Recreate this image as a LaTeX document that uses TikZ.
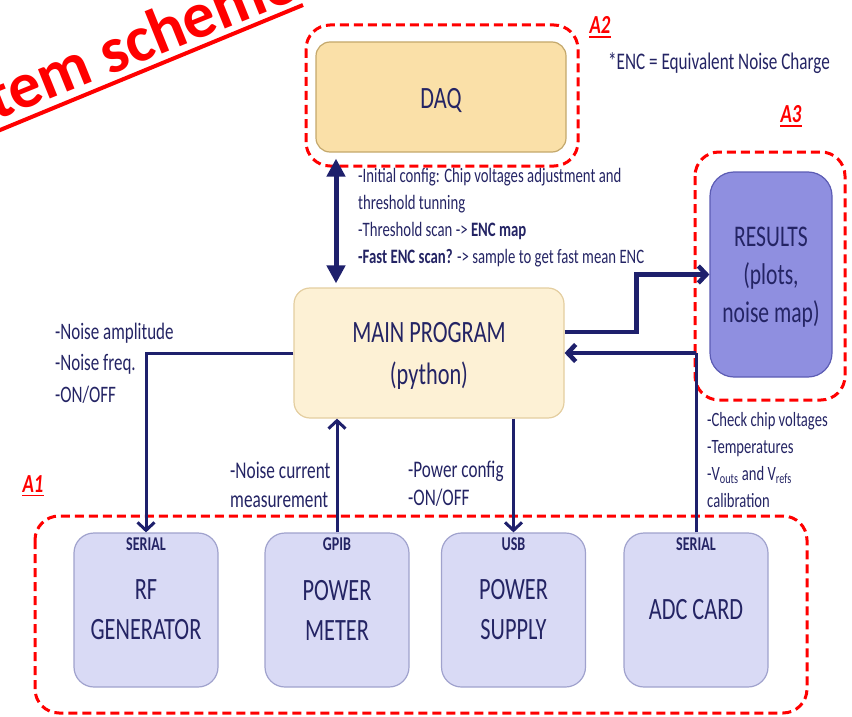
\documentclass[tikz,border=0pt]{standalone}
\usepackage{fontspec}
\setmainfont{Carlito}[FakeStretch=0.72]
\newfontfamily\titlefont{Carlito}
\usetikzlibrary{arrows.meta,calc}

\definecolor{ink}{RGB}{36,36,100}
\definecolor{wire}{RGB}{30,32,108}
\definecolor{daqfill}{RGB}{250,224,168}
\definecolor{daqedge}{RGB}{196,168,108}
\definecolor{mainfill}{RGB}{253,241,213}
\definecolor{mainedge}{RGB}{228,206,160}
\definecolor{resfill}{RGB}{143,143,224}
\definecolor{resedge}{RGB}{92,92,180}
\definecolor{devfill}{RGB}{217,218,245}
\definecolor{devedge}{RGB}{160,162,205}

\newcommand\fsz[2]{\fontsize{#1}{#2}\selectfont}

\begin{document}
\begin{tikzpicture}[x=1pt,y=-1pt,
  box/.style={draw, line width=1.2pt, inner sep=0pt, text=ink},
  daqbox/.style={box, fill=daqfill, draw=daqedge, rounded corners=14pt},
  mainbox/.style={box, fill=mainfill, draw=mainedge, rounded corners=16pt},
  resbox/.style={box, fill=resfill, draw=resedge, rounded corners=24pt},
  devbox/.style={box, fill=devfill, draw=devedge, rounded corners=20pt,
    minimum width=144pt, minimum height=154pt,
    align=center, font=\fsz{31}{40}},
  area/.style={draw=red, line width=3pt, dash pattern=on 9pt off 5pt, rounded corners=24pt},
  arealabel/.style={text=red, inner sep=0pt, font=\bfseries\itshape\fsz{26}{26}},
  bigtext/.style={inner sep=0pt, text=ink, align=center},
  note/.style={inner sep=0pt, text=ink, align=left, anchor=west},
  port/.style={inner sep=0pt, text=ink, font=\bfseries\fsz{19.5}{20}},
  conn/.style={draw=wire, line width=3pt},
  heavy/.style={draw=wire, line width=4.5pt},
  chev/.tip={Straight Barb[length=8pt,width=17pt]},
]
\useasboundingbox (0,0) rectangle (852,717);
\clip (0,0) rectangle (852,717);

% slide title running off the corner
\node[font=\titlefont\bfseries\fsz{65}{65}, text=red, rotate=22, anchor=base west, inner sep=0pt]
  (title) at (-4,121) {tem scheme};
\draw[red, line width=4pt] (-12,135) -- (303,5);

% dashed areas
\draw[area] (306,25) rectangle (578,166);
\draw[area] (695,152) rectangle (845,400);
\draw[area] (35,516) rectangle (807,713);
\node[arealabel] (a2) at (600,25) {A2};
\node[arealabel] (a3) at (791,114) {A3};
\node[arealabel] (a1) at (33,484) {A1};
\foreach \l in {a1,a2,a3}
  \draw[red, line width=1.6pt] ($(\l.south west)+(0,3)$) -- ($(\l.south east)+(0,3)$);

% main blocks
\node[daqbox, minimum width=250pt, minimum height=110pt] (daq) at (441,97) {};
\node[bigtext, font=\fsz{31}{40}] (daqtext) at (441,100) {DAQ};

\node[mainbox, minimum width=270pt, minimum height=130pt] (main) at (429,353) {};
\node[bigtext, font=\fsz{31}{42}] (maintext) at (429,356) {MAIN PROGRAM\\(python)};

\node[resbox, minimum width=122pt, minimum height=205pt] (res) at (771,274.5) {};
\node[bigtext, font=\fsz{30}{38}] (restext) at (771,277) {RESULTS\\(plots,\\noise map)};

% instruments
\node[devbox] (rf)  at (146,610) {RF\\GENERATOR};
\node[devbox] (pm)  at (337,610) {POWER\\METER};
\node[devbox] (ps)  at (513.5,610) {POWER\\SUPPLY};
\node[devbox] (adc) at (696,610) {ADC CARD};
\node[port] (prf)  at ($(rf.north)+(0,12)$)  {SERIAL};
\node[port] (ppm)  at ($(pm.north)+(0,12)$)  {GPIB};
\node[port] (pps)  at ($(ps.north)+(0,12)$)  {USB};
\node[port] (padc) at ($(adc.north)+(0,12)$) {SERIAL};

% footnote and connector notes
\node[note, font=\fsz{23.8}{24}] (enc) at (608,63) {*ENC = Equivalent Noise Charge};
\node[note, font=\fsz{20.5}{27}] (daqnote) at (358,218)
  {-Initial config: Chip voltages adjustment and\\threshold tunning\\
   -Threshold scan -> \textbf{ENC map}\\
   \textbf{-Fast ENC scan?} -> sample to get fast mean ENC};
\node[note, font=\fsz{23.6}{31.5}] (rfnote) at (55,363) {-Noise amplitude\\-Noise freq.\\-ON/OFF};
\node[note, font=\fsz{24}{29}] (pmnote) at (230,484.5) {-Noise current\\measurement};
\node[note, font=\fsz{23.8}{28}] (psnote) at (408,483.5) {-Power config\\-ON/OFF};
\node[note, font=\fsz{20.3}{27}] (adcnote) at (707,460)
  {-Check chip voltages\\-Temperatures\\-V\textsubscript{outs} and V\textsubscript{refs}\\calibration};

% connectors
\coordinate (d1) at ($(daq.south)+(-105,6)$);
\draw[heavy, line width=5pt, {Triangle[length=18pt,width=18pt]}-{Triangle[length=18pt,width=18pt]}, shorten >=4pt]
  (d1) -- (d1 |- main.north);

\draw[heavy, -{chev}] ($(main.east)+(0,-21)$) -- ++(72,0) |- (res.west);

\coordinate (j) at (adc.north |- main.east);
\draw[conn] (adc.north) -- (j);
\draw[heavy, -{chev}] (j) -- (main.east);

\draw[conn, -{chev}] (main.west) -| (rf.north);
\draw[conn, -{chev}] (pm.north) -- (pm.north |- main.south);
\draw[conn, -{chev}] (main.south -| ps.north) -- (ps.north);
\end{tikzpicture}
\end{document}
